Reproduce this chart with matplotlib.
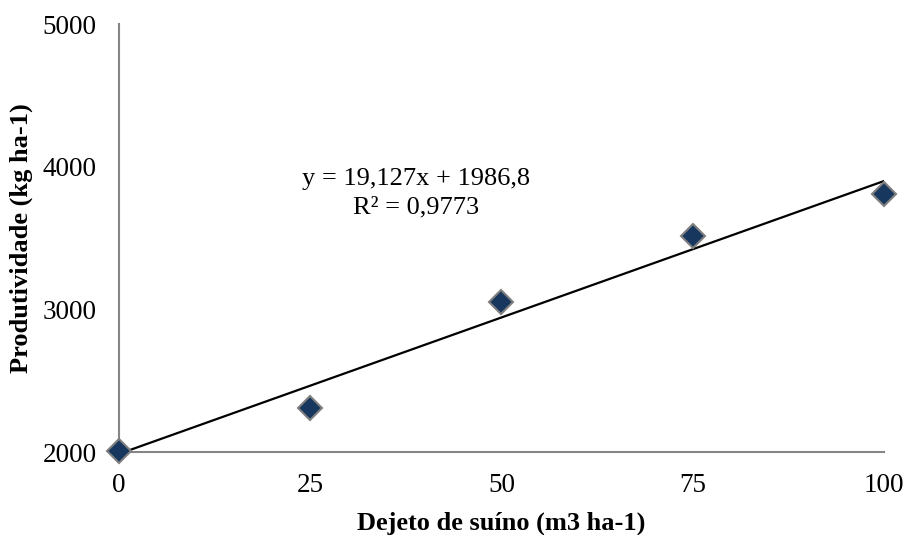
import numpy as np
import matplotlib
matplotlib.use("Agg")
import matplotlib.pyplot as plt

plt.rcParams['font.family'] = ['Liberation Serif', 'DejaVu Serif']

dose = [0, 25, 50, 75, 100]
produtividade = [2010, 2308, 3051, 3514, 3808]
slope = 19.127
intercept = 1986.8
x_ticks = [0, 25, 50, 75, 100]
y_ticks = [2000, 3000, 4000, 5000]

fig = plt.figure(figsize=(9.06, 5.35), dpi=100)
ax = fig.add_axes([0.1313, 0.1551, 0.8444, 0.8])

# linha de tendencia
xl = np.array([0, 100])
ax.plot(xl, slope * xl + intercept, color='black', lw=1.6, zorder=2)

ax.plot(dose, produtividade, linestyle='none', marker='D', markersize=12.5,
        markerfacecolor='#17375E', markeredgecolor='#7F7F7F',
        markeredgewidth=1.5, zorder=3, clip_on=False)

ax.set_xlim(0, 100)
ax.set_ylim(2000, 5000)
ax.set_xticks(x_ticks)
ax.set_yticks(y_ticks)
ax.tick_params(length=0, labelsize=19.5, colors='black')
ax.tick_params(axis='y', pad=16)
ax.tick_params(axis='x', pad=15)

for s in ['top', 'right']:
    ax.spines[s].set_visible(False)
for s in ['left', 'bottom']:
    ax.spines[s].set_color('#868686')
    ax.spines[s].set_linewidth(1.5)

ax.set_xlabel('Dejeto de suíno (m3 ha-1)', fontsize=19, fontweight='bold', labelpad=10)
ax.set_ylabel('Produtividade (kg ha-1)', fontsize=19, fontweight='bold', labelpad=7)

ax.text(38.8, 3815, 'y = 19,127x + 1986,8\nR² = 0,9773', fontsize=19,
        ha='center', va='center', linespacing=1.35)

fig.savefig('out.png', dpi=100)
